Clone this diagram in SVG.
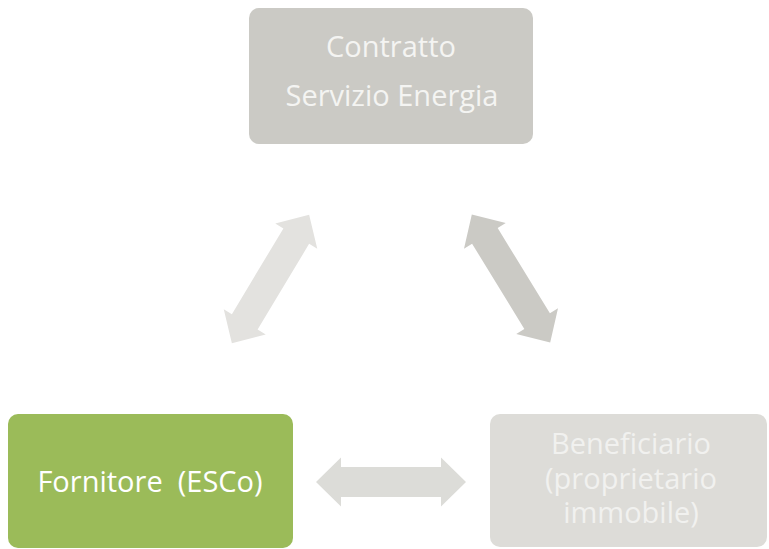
<svg xmlns="http://www.w3.org/2000/svg" xmlns:xlink="http://www.w3.org/1999/xlink" width="769" height="549" viewBox="0 0 769 549">
  <style>
    .lbl { font-family: "Open Sans", "Liberation Sans", sans-serif; font-size: 29px; text-anchor: middle; white-space: pre; }
  </style>
  <defs>
    <path id="dblArrow" d="M -75 0 L -50 -24.5 L -50 -15 L 50 -15 L 50 -24.5 L 75 0 L 50 24.5 L 50 15 L -50 15 L -50 24.5 Z"/>
  </defs>
  <rect width="769" height="549" fill="#ffffff"/>

  <g id="connectors">
    <use xlink:href="#dblArrow" href="#dblArrow" transform="translate(270.5 279) rotate(-59)" fill="#e3e2df"/>
    <use xlink:href="#dblArrow" href="#dblArrow" transform="translate(511 278.5) rotate(58.5)" fill="#cbcac5"/>
    <use xlink:href="#dblArrow" href="#dblArrow" transform="translate(391 482)" fill="#dcdcd8"/>
  </g>

  <g id="contratto">
    <rect x="249" y="8" width="284" height="136" rx="10" ry="10" fill="#cbcac5"/>
    <text class="lbl" x="391" y="57" fill="#f4f4f2">Contratto</text>
    <text class="lbl" x="392" y="106" fill="#f4f4f2">Servizio Energia</text>
  </g>

  <g id="fornitore">
    <rect x="8" y="414" width="285" height="134" rx="10" ry="10" fill="#9bbb59"/>
    <text class="lbl" x="150" y="492" fill="#ffffff">Fornitore  (ESCo)</text>
  </g>

  <g id="beneficiario">
    <rect x="490" y="414" width="277" height="133" rx="10" ry="10" fill="#dddcd8"/>
    <text class="lbl" x="631" y="454" fill="#f1f1ef">Beneficiario</text>
    <text class="lbl" x="631" y="489" fill="#f1f1ef">(proprietario</text>
    <text class="lbl" x="631" y="523" fill="#f1f1ef">immobile)</text>
  </g>
</svg>
